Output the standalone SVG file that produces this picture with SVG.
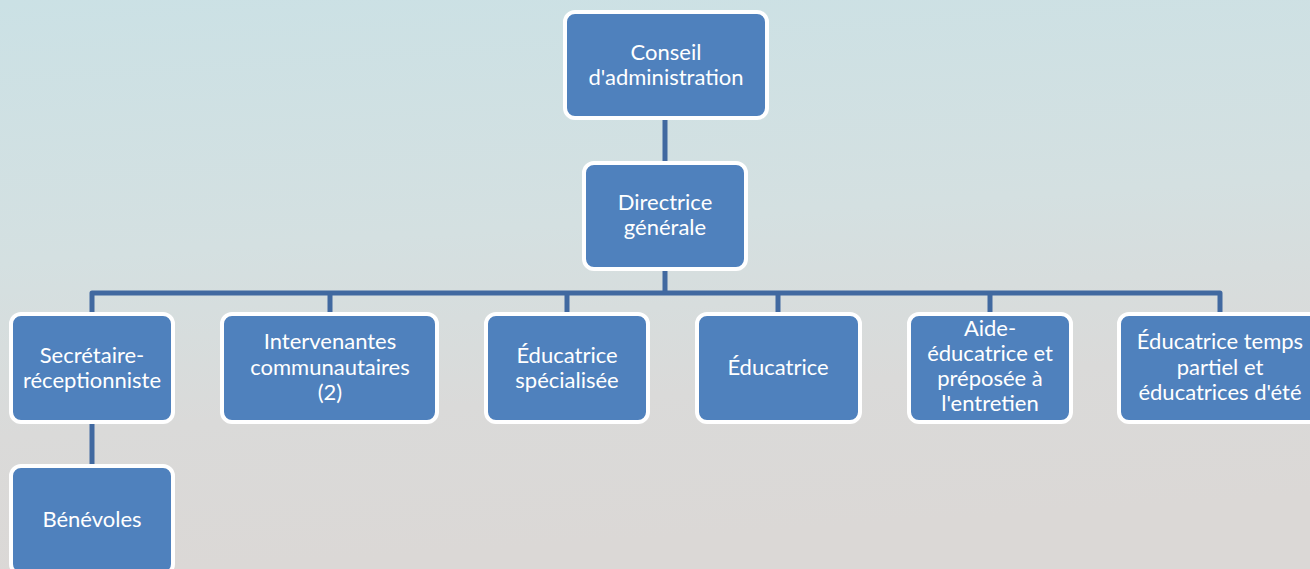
<svg xmlns="http://www.w3.org/2000/svg" width="1310" height="569" viewBox="0 0 1310 569">
<defs>
<linearGradient id="bg" x1="0" y1="0" x2="0.15" y2="1">
<stop offset="0" stop-color="#cbe1e5"/>
<stop offset="0.45" stop-color="#d4e0e1"/>
<stop offset="0.75" stop-color="#dadad9"/>
<stop offset="1" stop-color="#dbd8d6"/>
</linearGradient>
<style>
.box{fill:#4f81bd;stroke:#ffffff;stroke-width:4}
.t{fill:#ffffff;font-family:Lato,"Open Sans","Liberation Sans",sans-serif;font-size:22px;text-anchor:middle}
.c{fill:none;stroke:#4169a0;stroke-width:5;stroke-linejoin:round}
</style>
</defs>
<rect x="0" y="0" width="1310" height="569" fill="url(#bg)"/>
<g id="connectors">
<path class="c" d="M665,118 V163"/>
<path class="c" d="M665,269 V293"/>
<path class="c" d="M92,314 V293 H1220 V314"/>
<path class="c" d="M330,293 V314"/>
<path class="c" d="M567,293 V314"/>
<path class="c" d="M778,293 V314"/>
<path class="c" d="M990,293 V314"/>
<path class="c" d="M92,422 V466"/>
</g>
<g id="n-conseil">
<rect class="box" x="565" y="12" width="202" height="106" rx="10"/>
<text class="t" x="666" y="60">Conseil</text>
<text class="t" x="666" y="85">d'administration</text>
</g>
<g id="n-directrice">
<rect class="box" x="584" y="163" width="162" height="106" rx="10"/>
<text class="t" x="665" y="210">Directrice</text>
<text class="t" x="665" y="235">générale</text>
</g>
<g id="n-secretaire">
<rect class="box" x="11" y="314" width="162" height="108" rx="10"/>
<text class="t" x="92" y="363">Secrétaire-</text>
<text class="t" x="92" y="388">réceptionniste</text>
</g>
<g id="n-intervenantes">
<rect class="box" x="222" y="314" width="215" height="108" rx="10"/>
<text class="t" x="330" y="349">Intervenantes</text>
<text class="t" x="330" y="375">communautaires</text>
<text class="t" x="330" y="400">(2)</text>
</g>
<g id="n-educ-spec">
<rect class="box" x="486" y="314" width="162" height="108" rx="10"/>
<text class="t" x="567" y="363">Éducatrice</text>
<text class="t" x="567" y="388">spécialisée</text>
</g>
<g id="n-educatrice">
<rect class="box" x="697" y="314" width="163" height="108" rx="10"/>
<text class="t" x="778" y="375">Éducatrice</text>
</g>
<g id="n-aide">
<rect class="box" x="909" y="314" width="162" height="108" rx="10"/>
<text class="t" x="990" y="336">Aide-</text>
<text class="t" x="990" y="361">éducatrice et</text>
<text class="t" x="990" y="386">préposée à</text>
<text class="t" x="990" y="411">l'entretien</text>
</g>
<g id="n-educ-temps">
<rect class="box" x="1119" y="314" width="204" height="108" rx="10"/>
<text class="t" x="1220" y="349">Éducatrice temps</text>
<text class="t" x="1220" y="375">partiel et</text>
<text class="t" x="1220" y="400">éducatrices d'été</text>
</g>
<g id="n-benevoles">
<rect class="box" x="11" y="466" width="162" height="108" rx="10"/>
<text class="t" x="92" y="527">Bénévoles</text>
</g>
</svg>
